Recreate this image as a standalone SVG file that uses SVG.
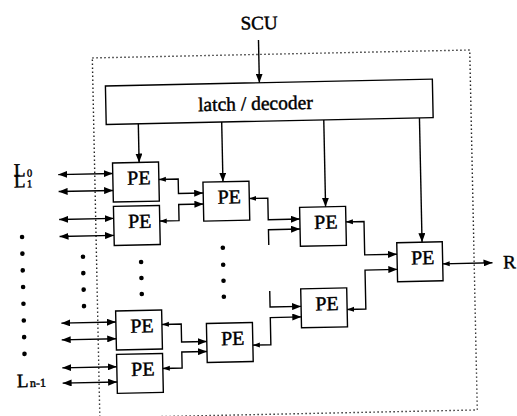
<svg xmlns="http://www.w3.org/2000/svg" width="517" height="416" viewBox="0 0 517 416">
<style>
.box{fill:#fff;stroke:#000;stroke-width:1.4}
.pe{font-family:"Liberation Serif","Times New Roman",serif;font-size:20px;text-anchor:middle;fill:#000;stroke:#000;stroke-width:0.45}
.lab{font-family:"Liberation Serif","Times New Roman",serif;font-size:19px;fill:#000;stroke:#000;stroke-width:0.45}
.w{fill:none;stroke:#000;stroke-width:1.4}
.dot{fill:#000}
.frame{fill:none;stroke:#222;stroke-width:1.4;stroke-dasharray:1.4 2.6}
</style>
<defs>
<marker id="ah" markerUnits="userSpaceOnUse" markerWidth="9" markerHeight="7" refX="9" refY="3.5" orient="auto-start-reverse"><path d="M0,0 L9,3.5 L0,7 z" fill="#000"/></marker>
<marker id="sh" markerUnits="userSpaceOnUse" markerWidth="7" markerHeight="6" refX="7" refY="3" orient="auto-start-reverse"><path d="M0,0.5 L7,3 L0,5.5 z" fill="#000"/></marker>
</defs>
<g transform="rotate(-1.2 258 208)">
<rect class="frame" x="95.5" y="54.5" width="377.5" height="360"/>
<g id="scu"><text class="lab" x="263" y="29.3" text-anchor="middle">SCU</text></g>
<g id="latch"><rect class="box" x="108" y="82.8" width="327" height="38.5"/><text class="lab" x="257.6" y="110" text-anchor="middle" style="font-size:19.5px">latch / decoder</text></g>
<g id="pe11"><rect class="box" x="113.5" y="160" width="46" height="39"/><text class="pe" x="139.5" y="182">PE</text></g>
<g id="pe12"><rect class="box" x="113.5" y="203.4" width="46" height="39"/><text class="pe" x="139.5" y="225.4">PE</text></g>
<g id="pe13"><rect class="box" x="113.5" y="308" width="46" height="39"/><text class="pe" x="139.5" y="330">PE</text></g>
<g id="pe14"><rect class="box" x="113.5" y="351.4" width="46" height="39"/><text class="pe" x="139.5" y="373.4">PE</text></g>
<g id="pe21"><rect class="box" x="203.5" y="181" width="46" height="39"/><text class="pe" x="229.5" y="203">PE</text></g>
<g id="pe22"><rect class="box" x="204" y="322.4" width="46" height="39"/><text class="pe" x="230" y="344.4">PE</text></g>
<g id="pe31"><rect class="box" x="299.6" y="208.2" width="46" height="39"/><text class="pe" x="325.6" y="230.2">PE</text></g>
<g id="pe32"><rect class="box" x="299" y="289.7" width="46" height="39"/><text class="pe" x="325" y="311.7">PE</text></g>
<g id="pe4"><rect class="box" x="396" y="245.6" width="45.5" height="39"/><text class="pe" x="421.7" y="267.6">PE</text></g>
<g id="connectors">
<path class="w" d="M262,40 V82.8" marker-end="url(#ah)"/>
<path class="w" d="M140.1,121.3 V160" marker-end="url(#ah)"/>
<path class="w" d="M223.5,121.3 V181" marker-end="url(#ah)"/>
<path class="w" d="M325.6,121.3 V208.2" marker-end="url(#ah)"/>
<path class="w" d="M421.3,121.3 V245.6" marker-end="url(#ah)"/>
<path class="w" d="M59,170.4 H113.5" marker-start="url(#ah)" marker-end="url(#ah)"/>
<path class="w" d="M59,187.4 H113.5" marker-start="url(#ah)" marker-end="url(#ah)"/>
<path class="w" d="M59,215.4 H113.5" marker-start="url(#ah)" marker-end="url(#ah)"/>
<path class="w" d="M59,232.4 H113.5" marker-start="url(#ah)" marker-end="url(#ah)"/>
<path class="w" d="M59,319 H113.5" marker-start="url(#ah)" marker-end="url(#ah)"/>
<path class="w" d="M59,335.7 H113.5" marker-start="url(#ah)" marker-end="url(#ah)"/>
<path class="w" d="M59,363.7 H113.5" marker-start="url(#ah)" marker-end="url(#ah)"/>
<path class="w" d="M59,379 H113.5" marker-start="url(#ah)" marker-end="url(#ah)"/>
<path class="w" d="M159.5,177.4 H178.8 V191.9 H203.5" marker-start="url(#sh)" marker-end="url(#ah)"/>
<path class="w" d="M159.5,219 H178.8 V202.9 H203.5" marker-start="url(#sh)" marker-end="url(#ah)"/>
<path class="w" d="M159.5,322.4 H178.8 V340.4 H204" marker-start="url(#sh)" marker-end="url(#ah)"/>
<path class="w" d="M159.5,366.4 H178.8 V350.4 H204" marker-start="url(#sh)" marker-end="url(#ah)"/>
<path class="w" d="M249.5,198.3 H268 V219.9 H299.6" marker-start="url(#sh)" marker-end="url(#ah)"/>
<path class="w" d="M268,245.2 V229.9 H299.6" marker-end="url(#ah)"/>
<path class="w" d="M268,291.2 V307.3 H299" marker-end="url(#ah)"/>
<path class="w" d="M250,345 H268 V317.8 H299" marker-start="url(#sh)" marker-end="url(#ah)"/>
<path class="w" d="M345.6,223.7 H363.7 V257.1 H396" marker-start="url(#sh)" marker-end="url(#ah)"/>
<path class="w" d="M345,311.3 H363.7 V272.3 H396" marker-start="url(#sh)" marker-end="url(#ah)"/>
<path class="w" d="M441.5,267.7 H491.3" marker-start="url(#sh)" marker-end="url(#ah)"/>
</g>
<g id="ellipsis">
<circle class="dot" cx="21.5" cy="232" r="2.3"/>
<circle class="dot" cx="21.5" cy="248.7" r="2.3"/>
<circle class="dot" cx="21.5" cy="265.4" r="2.3"/>
<circle class="dot" cx="21.5" cy="282.1" r="2.3"/>
<circle class="dot" cx="21.5" cy="298.8" r="2.3"/>
<circle class="dot" cx="21.5" cy="315.5" r="2.3"/>
<circle class="dot" cx="21.5" cy="332.2" r="2.3"/>
<circle class="dot" cx="21.5" cy="349" r="2.3"/>
<circle class="dot" cx="82" cy="253" r="2.3"/>
<circle class="dot" cx="82" cy="269.5" r="2.3"/>
<circle class="dot" cx="82" cy="286" r="2.3"/>
<circle class="dot" cx="82" cy="302.5" r="2.3"/>
<circle class="dot" cx="140" cy="259.5" r="2.3"/>
<circle class="dot" cx="140" cy="275.5" r="2.3"/>
<circle class="dot" cx="140" cy="291.5" r="2.3"/>
<circle class="dot" cx="222" cy="247" r="2.3"/>
<circle class="dot" cx="222" cy="264" r="2.3"/>
<circle class="dot" cx="222" cy="280" r="2.3"/>
<circle class="dot" cx="222" cy="296" r="2.3"/>
</g>
<g id="labels">
<text class="lab" x="14.7" y="171.6">L<tspan dx="1.5" style="font-size:10.5px">0</tspan></text>
<text class="lab" x="14.4" y="182.4">L<tspan dx="1.5" style="font-size:10.5px">1</tspan></text>
<text class="lab" x="13.2" y="382.2">L<tspan dx="1.5" style="font-size:12px">n-1</tspan></text>
<text class="lab" x="502" y="273.5" style="font-size:19px">R</text>
</g>
</g>
</svg>
